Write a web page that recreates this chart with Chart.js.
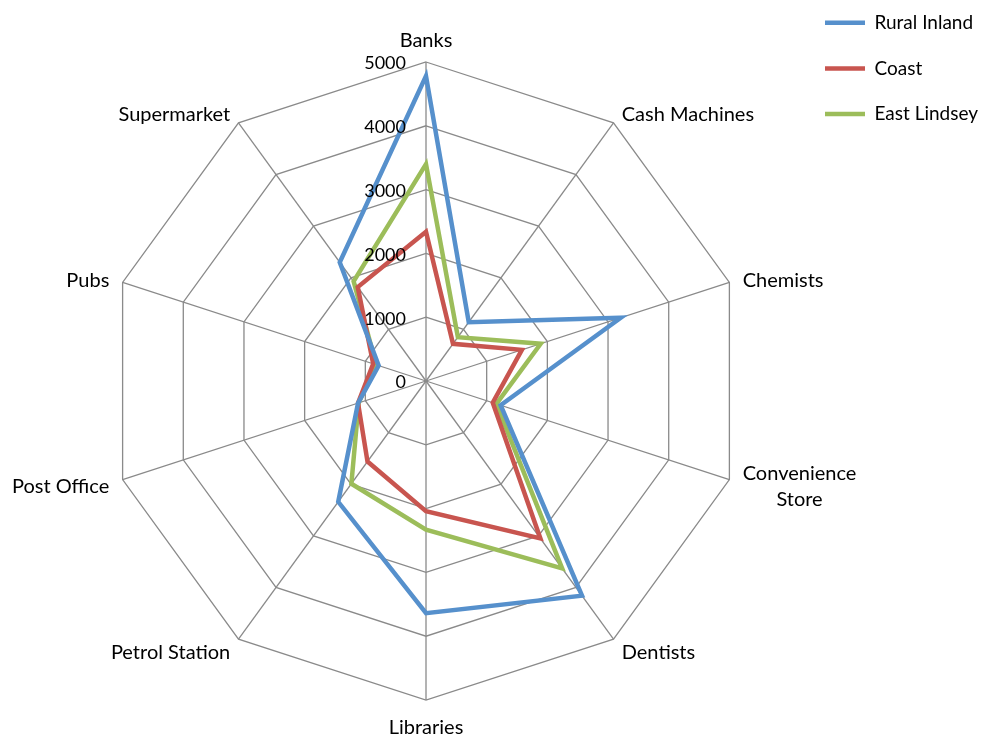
<!DOCTYPE html>
<html>
<head>
<meta charset="utf-8">
<script src="https://cdn.jsdelivr.net/npm/chart.js@4/dist/chart.umd.min.js"></script>
<style>
html,body{margin:0;padding:0;background:#fff;}
#wrap{width:982px;height:739px;position:relative;}
</style>
</head>
<body>
<div id="wrap"><canvas id="c" width="982" height="739"></canvas></div>
<script>
// ---- data ----
const categories = ['Banks', 'Cash Machines', 'Chemists', ['Convenience', 'Store'], 'Dentists',
  'Libraries', 'Petrol Station', 'Post Office', 'Pubs', 'Supermarket'];
const seriesNames = ['Rural Inland', 'Coast', 'East Lindsey'];
const ruralInland = [4780, 1140, 3210, 1230, 4160, 3640, 2340, 1120, 780, 2300];
const coast       = [2340,  720, 1580, 1100, 3050, 2040, 1560, 1120, 870, 1820];
const eastLindsey = [3400,  850, 1890, 1160, 3630, 2330, 1990, 1110, 820, 1930];
const tickValues = [0, 1000, 2000, 3000, 4000, 5000];
const tickLabels = ['0', '1000', '2000', '3000', '4000', '5000'];

// ---- style / layout ----
const FONT = 'Lato';
const LABEL_SIZE = 20;
const TICK_SIZE = 18;
const LEGEND_FONT = 19;
const LEGEND_GAP = 45.7 - LEGEND_FONT;
const BOX_W = 40;
const colors = ['#5690CC', '#C8554F', '#9CBD5A'];
const gridColor = '#8a8a8a';

const mctx = document.createElement('canvas').getContext('2d');
mctx.font = LEGEND_FONT + 'px ' + FONT;
const maxTextW = Math.max(...seriesNames.map(n => mctx.measureText(n).width));
const legendLeft = 825 - LEGEND_GAP;
const legendWidth = LEGEND_GAP + BOX_W + LEGEND_FONT / 2 + maxTextW + 10;
const padRight = 982 - legendLeft - legendWidth;
const padLeft = 852.5 - legendLeft;
const padTop = 22.7 - LEGEND_GAP - LEGEND_FONT / 2;
const areaTop = 62;
const padBottom = 39;

const labelPlugin = {
  id: 'excelLabels',
  afterDraw(chart) {
    const s = chart.scales.r;
    const ctx = chart.ctx;
    ctx.save();
    ctx.fillStyle = '#000';
    ctx.font = TICK_SIZE + 'px ' + FONT;
    ctx.textAlign = 'right';
    ctx.textBaseline = 'middle';
    tickValues.forEach((v, i) => {
      const d = s.getDistanceFromCenterForValue(v);
      ctx.fillText(tickLabels[i], s.xCenter - 20, s.yCenter - d + 1.5);
    });
    ctx.font = LABEL_SIZE + 'px ' + FONT;
    ctx.textAlign = 'center';
    const lh = 26;
    chart.data.labels.forEach((lab, i) => {
      const lines = Array.isArray(lab) ? lab : [lab];
      const p = s.getPointPosition(i, s.drawingArea + 14);
      const dx = p.x - s.xCenter, dy = p.y - s.yCenter;
      const bw = Math.max(...lines.map(l => ctx.measureText(l).width));
      const bh = lh * (lines.length - 1) + 20;
      let left, top;
      if (Math.abs(dx) < 1) {
        left = p.x - bw / 2;
        top = dy < 0 ? p.y - bh : p.y + 1;
      } else {
        left = dx > 0 ? p.x : p.x - bw;
        top = p.y - bh / 2;
      }
      lines.forEach((l, k) => ctx.fillText(l, left + bw / 2, top + 12.5 + lh * k));
    });
    ctx.restore();
  }
};

const mk = (label, data, color) => ({
  label, data,
  borderColor: color, backgroundColor: color,
  borderWidth: 4.5, pointRadius: 0, pointHoverRadius: 0,
  fill: false, tension: 0, borderCapStyle: 'round', borderJoinStyle: 'miter',
  pointStyle: 'line'
});

new Chart(document.getElementById('c'), {
  type: 'radar',
  data: {
    labels: categories,
    datasets: [
      mk(seriesNames[0], ruralInland, colors[0]),
      mk(seriesNames[1], coast, colors[1]),
      mk(seriesNames[2], eastLindsey, colors[2])
    ]
  },
  options: {
    responsive: false,
    animation: false,
    devicePixelRatio: 1,
    layout: { padding: { left: padLeft, right: padRight, top: padTop, bottom: padBottom } },
    scales: {
      r: {
        min: 0, max: 5000,
        ticks: { stepSize: 1000, display: false },
        grid: { color: gridColor, lineWidth: 1.3 },
        angleLines: { color: gridColor, lineWidth: 1.3 },
        pointLabels: { display: false }
      }
    },
    plugins: {
      title: { display: true, text: '', font: { size: 10 }, padding: { top: areaTop - padTop - 12, bottom: 0 } },
      legend: {
        position: 'right', align: 'start',
        labels: {
          usePointStyle: true, pointStyle: 'line', pointStyleWidth: BOX_W,
          padding: LEGEND_GAP, color: '#000',
          font: { family: FONT, size: LEGEND_FONT }
        }
      },
      tooltip: { enabled: false }
    }
  },
  plugins: [labelPlugin]
});
</script>
</body>
</html>
